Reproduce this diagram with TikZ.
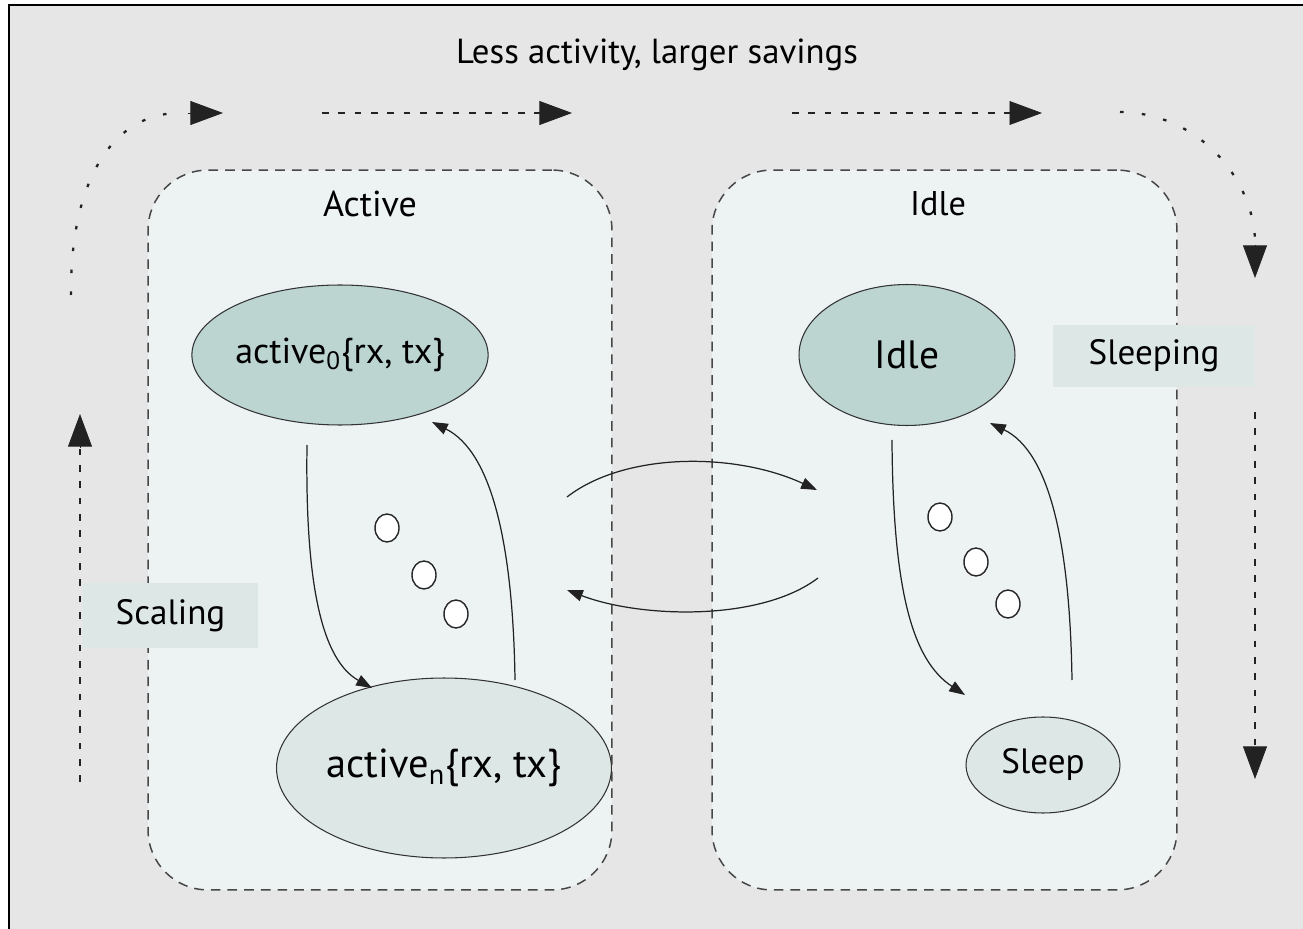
\documentclass[tikz,border=0pt]{standalone}
\usepackage{fontspec}
\setmainfont{PT Sans}
\usetikzlibrary{arrows.meta,shapes.geometric,calc}
\definecolor{bg}{HTML}{E6E6E6}
\definecolor{boxfill}{HTML}{EDF3F3}
\definecolor{darkfill}{HTML}{BCD5D1}
\definecolor{lightfill}{HTML}{DDE8E6}
\definecolor{lblfill}{HTML}{DDE8E6}
\definecolor{ink}{HTML}{222222}
\newcommand{\fsz}[1]{\fontsize{#1}{#1}\selectfont}
\tikzset{
  groupbox/.style={draw=black!72, fill=boxfill, line width=0.85pt, dash pattern=on 5.5pt off 4pt, rounded corners=1.2cm, inner sep=0pt},
  statenode/.style={ellipse, draw=black!80, line width=0.6pt, inner sep=0pt},
  dotnode/.style={ellipse, draw=black!85, fill=white, line width=0.8pt, minimum width=0.48cm, minimum height=0.56cm, inner sep=0pt},
  lblbox/.style={fill=lblfill, inner sep=0pt, font=\fsz{20}},
  title/.style={inner sep=0pt},
  conn/.style={draw=ink, line width=0.7pt, -{Triangle[length=9pt,width=6.5pt]}},
  bigtip/.style={-{Triangle[length=18.5pt,width=13.6pt]}, draw=ink, fill=none},
  dotline/.style={line width=1.3pt, dash pattern=on 2pt off 10.5pt},
  dashline/.style={line width=0.9pt, dash pattern=on 3.8pt off 5.5pt},
}
\begin{document}
\begin{tikzpicture}[x=0.02cm, y=-0.02cm]
\useasboundingbox (0,0) rectangle (1303,929);
\clip (0,0) rectangle (1303,929);
\fill[white] (0,0) rectangle (1303,929);
\draw[line width=1.2pt, fill=bg] (9,5) rectangle (1330,960);

% group boxes
\node[groupbox, minimum width=9.28cm, minimum height=14.4cm] (activebox) at (380,530) {};
\node[groupbox, minimum width=9.30cm, minimum height=14.4cm] (idlebox) at (944.5,530) {};
\node[title, font=\fsz{20.5}] (activelbl) at (370,204) {Active};
\node[title, font=\fsz{19.5}] (idlelbl) at (938,204) {Idle};

% label boxes
\node[lblbox, minimum width=3.5cm, minimum height=1.3cm] (scaling) at (170.5,615.5) {Scaling};
\node[lblbox, minimum width=4.04cm, minimum height=1.24cm] (sleeping) at (1154,356) {Sleeping};

% title
\node[title, font=\fsz{19.8}] (top) at (657,55) {Less activity, larger savings};

% states
\node[statenode, fill=darkfill, minimum width=4.28cm, minimum height=2.8cm, font=\fsz{20.5}] (a0) at (340,355) {active\textsubscript{0}\{rx, tx\}};
\node[statenode, fill=lightfill, minimum width=6.7cm, minimum height=3.6cm, font=\fsz{23}] (an) at (444,768) {active\textsubscript{n}\{rx, tx\}};
\node[statenode, fill=darkfill, minimum width=4.32cm, minimum height=2.82cm, font=\fsz{22.5}] (idle) at (907,355) {Idle};
\node[statenode, fill=lightfill, minimum width=3.08cm, minimum height=1.92cm, font=\fsz{20}] (sleep) at (1043,765) {Sleep};

% ellipsis dots
\node[dotnode] (d1) at (387,528) {};
\node[dotnode] (d2) at (424,575) {};
\node[dotnode] (d3) at (456,614) {};
\node[dotnode] (e1) at (940,517) {};
\node[dotnode] (e2) at (976,562) {};
\node[dotnode] (e3) at (1008,604) {};

% connector end points
\coordinate (a0out) at (307,445);
\coordinate (a0in) at (432,422);
\coordinate (anin) at (372,688);
\coordinate (anout) at (515,680);
\coordinate (idout) at (892,440);
\coordinate (idin) at (990,423);
\coordinate (slin) at (965,695);
\coordinate (slout) at (1072,680);
\coordinate (m1s) at (567,497);
\coordinate (m1e) at (817,490);
\coordinate (m2s) at (818,578);
\coordinate (m2e) at (567,590);

\draw[conn] (a0out) .. controls (305,585) and (322,660) .. (anin);
\draw[conn] (anout) .. controls (513,545) and (492,452) .. (a0in);
\draw[conn] (idout) .. controls (893,590) and (912,660) .. (slin);
\draw[conn] (slout) .. controls (1070,545) and (1050,452) .. (idin);
\draw[conn] (m1s) .. controls (625,452) and (735,452) .. (m1e);
\draw[conn] (m2s) .. controls (760,622) and (640,618) .. (m2e);

% big progress arrows
\coordinate (tl0) at (71,295);
\coordinate (tl1) at (223,113);
\coordinate (t20) at (322,113);
\coordinate (t21) at (572,113);
\coordinate (t30) at (792,113);
\coordinate (t31) at (1042,113);
\coordinate (tr0) at (1120,112);
\coordinate (tr1) at (1255,278);
\coordinate (r0) at (1255,412);
\coordinate (r1) at (1255,779);
\coordinate (l0) at (80,782);
\coordinate (l1) at (80,414);

\draw[dotline, ink] (tl0) .. controls (70,185) and (110,113) .. (180,113);
\draw[bigtip] (188,113) -- (tl1);
\draw[dashline, ink] (t20) -- (543,113);
\draw[bigtip] (540,113) -- (t21);
\draw[dashline, ink] (t30) -- (1013,113);
\draw[bigtip] (1010,113) -- (t31);
\draw[dotline, ink] (tr0) .. controls (1200,113) and (1253,180) .. (1255,240);
\draw[bigtip] (1255,245) -- (tr1);
\draw[dashline, ink] (r0) -- (1255,752);
\draw[bigtip] (1255,748) -- (r1);
\draw[dashline, ink] (l0) -- (80,446);
\draw[bigtip] (80,448) -- (l1);
\end{tikzpicture}
\end{document}
